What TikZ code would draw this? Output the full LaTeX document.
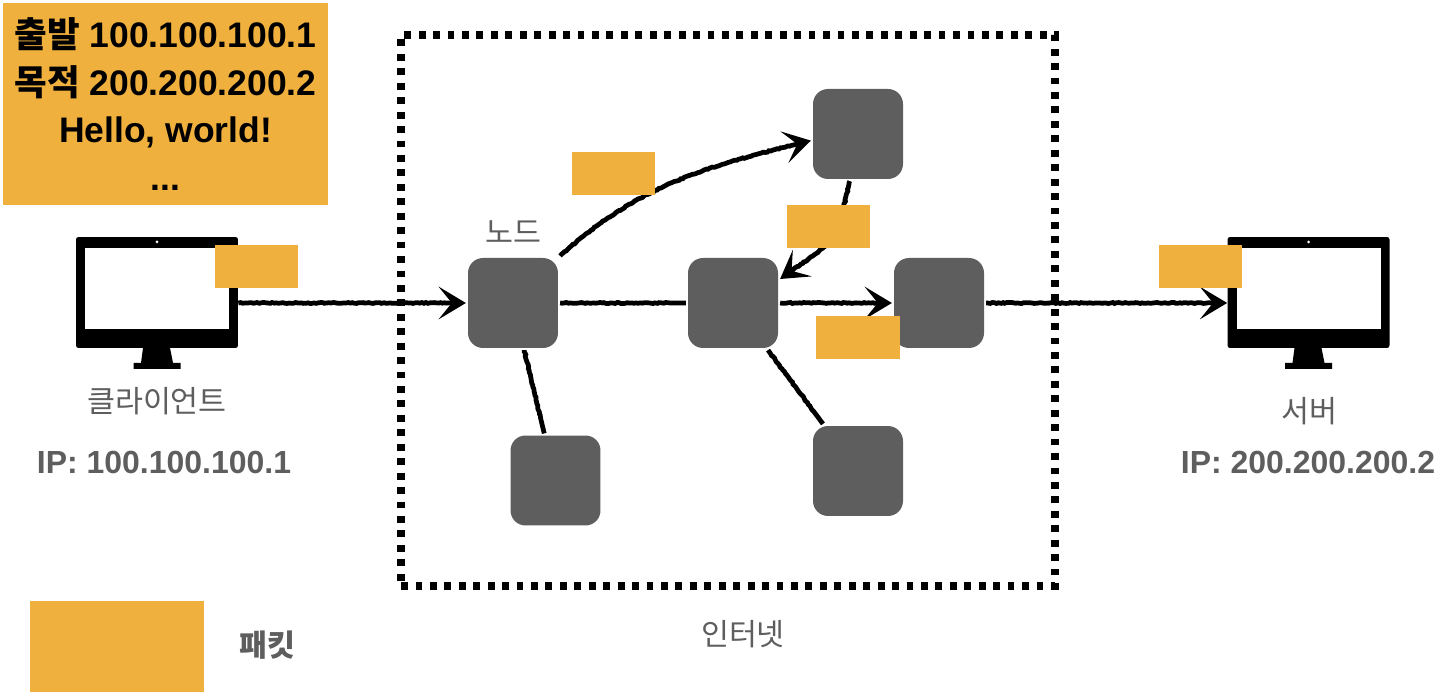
\documentclass[tikz,border=0pt]{standalone}
\usepackage{fontspec}
\setmainfont{Liberation Sans}
\newfontfamily\krfont{Noto Sans CJK KR}
\newcommand{\kr}[1]{{\krfont #1}}
\usetikzlibrary{arrows.meta,decorations.pathmorphing}
\definecolor{packetorange}{HTML}{F0B03E}
\definecolor{nodegray}{HTML}{5E5E5E}
\begin{document}
\begin{tikzpicture}[
    x=0.02cm,
    y=0.02cm,
    packet/.style={
        rectangle,
        fill=packetorange,
        minimum width=1.67cm,
        minimum height=0.87cm,
        inner sep=0pt
    },
    router/.style={
        rectangle,
        fill=nodegray,
        rounded corners=0.3cm,
        minimum size=1.8cm,
        inner sep=0pt,
        outer sep=1.2pt
    },
    link/.style={
        line width=2.7pt,
        black,
        decoration={random steps,segment length=1.2pt,amplitude=0.3pt,post=lineto,post length=9pt},
        decorate
    },
    linkarrow/.style={
        link,
        -{Stealth[length=15.5pt,width=18.5pt,inset=7.5pt]}
    },
    graylabel/.style={
        font=\fontsize{17.3}{21}\selectfont,
        text=nodegray
    },
    iplabel/.style={
        font=\fontsize{18.2}{22}\selectfont\bfseries,
        text=nodegray
    }
]
\useasboundingbox (0,0) rectangle (1440,699);

% Monitors
\foreach \name/\x in {client/157,server/1308.5} {
    \fill (\x-14,351) -- (\x+13,351) -- (\x+16,336) -- (\x+23.5,336) -- (\x+23.5,330)
        -- (\x-23.5,330) -- (\x-23.5,336) -- (\x-16,336) -- cycle;
    \node[rectangle,fill=black,rounded corners=0.05cm,minimum width=3.24cm,minimum height=2.22cm,inner sep=0pt] (\name) at (\x,406.5) {};
    \node[rectangle,fill=white,minimum width=2.88cm,minimum height=1.62cm,inner sep=0pt] (\name screen) at (\x,410.5) {};
    \fill[white] (\x,457) circle (1.5);
}

% Nodes
\node[router] (entry) at (513,396) {};
\node[router] (upper) at (858,565) {};
\node[router] (middle) at (733,396) {};
\node[router] (exit) at (939,396) {};
\node[router] (lowleft) at (555.5,218.5) {};
\node[router] (lowright) at (858,228) {};

% Links
\draw[linkarrow] (client.east |- entry.west) -- (entry.west);
\draw[link] (entry.east) -- (middle.west);
\draw[linkarrow] (middle.east) -- (exit.west);
\draw[linkarrow] (exit.east) -- (server.west |- exit.east);
\draw[linkarrow] (entry.45) to[out=42,in=194] (upper.188);
\draw[linkarrow] (upper.260) to[out=-103,in=36,looseness=1.5] (middle.27);
\draw[link] (entry) -- (lowleft);
\draw[link] (middle) -- (lowright);

% Internet border
\node[rectangle,draw=black,line width=4.1pt,dash pattern=on 3.9pt off 4.32pt,minimum width=13.08cm,minimum height=11.02cm,inner sep=0pt,outer sep=0pt] (internet) at (728,388.5) {};

% Packets
\node[packet] (packet1) at (256.5,432.5) {};
\node[packet] (packet2) at (613.5,525.5) {};
\node[packet] (packet3) at (828.5,472.5) {};
\node[packet] (packet4) at (858,361.5) {};
\node[packet] (packet5) at (1200.5,432.5) {};

% Packet contents
\node[rectangle,fill=packetorange,minimum width=6.5cm,minimum height=4.04cm,inner sep=0pt,align=center,font=\fontsize{20.2}{27.2}\selectfont\bfseries] (content) at (165.5,595) {\kr{출발} 100.100.100.1\\\kr{목적} 200.200.200.2\\Hello, world!\\...};

% Legend
\node[rectangle,fill=packetorange,minimum width=3.48cm,minimum height=1.82cm,inner sep=0pt] (legend) at (117,52.5) {};
\node[graylabel] (legendlabel) at (267,54) {\bfseries\kr{패킷}};

% Labels
\node[graylabel] (entrylabel) at (513,467) {\kr{노드}};
\node[graylabel] (clientlabel) at (157,298) {\kr{클라이언트}};
\node[graylabel] (serverlabel) at (1309,288) {\kr{서버}};
\node[graylabel] (internetlabel) at (743,65) {\kr{인터넷}};
\node[iplabel] (clientip) at (164,237) {IP: 100.100.100.1};
\node[iplabel] (serverip) at (1308,237) {IP: 200.200.200.2};

\end{tikzpicture}
\end{document}
